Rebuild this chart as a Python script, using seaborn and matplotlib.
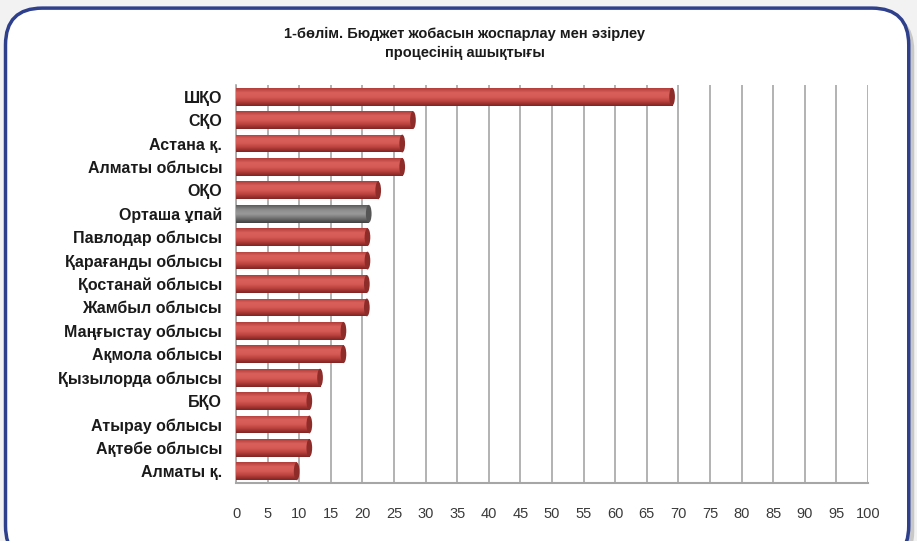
import matplotlib
matplotlib.use('Agg')
import matplotlib.pyplot as plt
import numpy as np
import pandas as pd
import seaborn as sns
from matplotlib.patches import FancyBboxPatch, Ellipse

# ─── Дерек ───
regions = [
    'ШҚО', 'СҚО', 'Астана қ.', 'Алматы облысы', 'ОҚО', 'Орташа ұпай',
    'Павлодар облысы', 'Қарағанды облысы', 'Қостанай облысы', 'Жамбыл облысы',
    'Маңғыстау облысы', 'Ақмола облысы', 'Қызылорда облысы', 'БҚО',
    'Атырау облысы', 'Ақтөбе облысы', 'Алматы қ.',
]
scores = [69, 28, 26.3, 26.3, 22.5, 21, 20.8, 20.8, 20.7, 20.7,
          17, 17, 13.3, 11.6, 11.6, 11.6, 9.6]
avg_label = 'Орташа ұпай'
title = '1-бөлім. Бюджет жобасын жоспарлау мен әзірлеу\nпроцесінің ашықтығы'
x_ticks = list(range(0, 101, 5))

RED = '#cf4f4b'
GRAY = '#7a7a7a'

sns.set_style('white')
plt.rcParams['font.family'] = ['Liberation Sans', 'DejaVu Sans']

df = pd.DataFrame({'region': regions, 'score': scores})
palette = {r: (GRAY if r == avg_label else RED) for r in regions}

fig = plt.figure(figsize=(9.17, 5.41), dpi=100)
fig.patch.set_facecolor('#f2f2f2')

# Рамка (дөңгелек шеті бар)
shadow = FancyBboxPatch((0.012, -0.05), 0.985, 1.025, transform=fig.transFigure,
                        boxstyle='round,pad=0,rounding_size=0.04',
                        facecolor='#c8c8c8', edgecolor='none', zorder=0,
                        mutation_aspect=917 / 541)
frame = FancyBboxPatch((0.006, -0.04), 0.985, 1.025, transform=fig.transFigure,
                       boxstyle='round,pad=0,rounding_size=0.04',
                       facecolor='white', edgecolor='#2e3f8c', linewidth=2.5,
                       zorder=1, mutation_aspect=917 / 541)
fig.patches.extend([shadow, frame])

ax = fig.add_axes([236 / 917, 58 / 541, 632 / 917, 398 / 541])
ax.set_facecolor('none')
ax.set_zorder(2)

sns.barplot(data=df, y='region', x='score', hue='region', palette=palette,
            orient='h', width=0.76, legend=False, ax=ax, saturation=1,
            edgecolor='none')

# Цилиндр әсері: градиент + соңындағы эллипс
grad = np.linspace(0, 1, 64).reshape(-1, 1)
for patch, reg in zip(ax.patches, regions):
    x0, y0 = patch.get_x(), patch.get_y()
    w, h = patch.get_width(), patch.get_height()
    if reg == avg_label:
        cmap = matplotlib.colors.LinearSegmentedColormap.from_list(
            'g', ['#5a5a5a', '#8c8c8c', '#9a9a9a', '#6e6e6e', '#3f3f3f'])
        cap = '#555555'
    else:
        cmap = matplotlib.colors.LinearSegmentedColormap.from_list(
            'r', ['#b03c38', '#d9605b', '#d65a55', '#b8403c', '#7e2422'])
        cap = '#8e2c2a'
    im = ax.imshow(grad, cmap=cmap, aspect='auto', extent=(x0, x0 + w, y0 + h, y0),
                   zorder=3, interpolation='bicubic')
    im.set_clip_path(patch)
    ax.add_patch(Ellipse((x0 + w, y0 + h / 2), 0.9, h, facecolor=cap,
                         edgecolor='none', zorder=4))
    ax.add_patch(Ellipse((x0, y0 + h / 2), 0.9, h, facecolor=cap,
                         edgecolor='none', zorder=2.5))

ax.set_xlim(0, 100)
ax.set_ylim(len(regions) - 0.5, -0.5)
ax.set_xticks(x_ticks)
ax.set_xticklabels([str(t) for t in x_ticks], fontsize=10.5, color='#3a3a3a')
ax.tick_params(axis='x', length=0, pad=17)
ax.tick_params(axis='y', length=0, pad=10)
for lbl in ax.get_yticklabels():
    lbl.set_fontweight('bold')
    lbl.set_fontsize(11.5)
    lbl.set_color('#1a1a1a')
ax.set_xlabel('')
ax.set_ylabel('')

ax.grid(axis='x', color='#a6a6a6', linewidth=1.2)
ax.set_axisbelow(True)
for side in ['top', 'right']:
    ax.spines[side].set_visible(False)
ax.spines['left'].set_color('#a6a6a6')
ax.spines['bottom'].set_color('#a6a6a6')
ax.spines['left'].set_linewidth(1.2)
ax.spines['bottom'].set_linewidth(1.5)

fig.text(0.507, 0.92, title, ha='center', va='center', fontsize=10.5,
         fontweight='bold', linespacing=1.45, color='#1a1a1a', zorder=3)

fig.savefig('out.png', dpi=100, facecolor=fig.get_facecolor())
